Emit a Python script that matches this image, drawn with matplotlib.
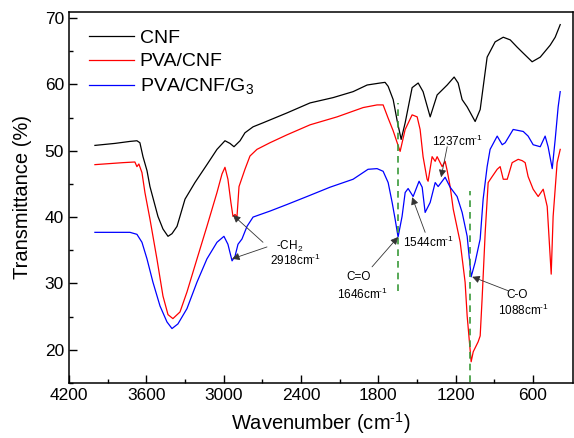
import numpy as np
import matplotlib
matplotlib.use('Agg')
import matplotlib.pyplot as plt

plt.rcParams['font.family'] = ['Liberation Sans', 'DejaVu Sans']
plt.rcParams['mathtext.fontset'] = 'custom'
plt.rcParams['mathtext.rm'] = 'Liberation Sans'
plt.rcParams['mathtext.it'] = 'Liberation Sans:italic'

# CNF
wn_cnf = [3998, 3843, 3726, 3672, 3649, 3625, 3594, 3571, 3509, 3470, 3431, 3400, 3361,
          3299, 3222, 3129, 3051, 2989, 2950, 2919, 2872, 2834, 2771, 2694, 2507, 2329,
          2150, 1995, 1886, 1785, 1747, 1723, 1684, 1653, 1622, 1591, 1537, 1490, 1452,
          1397, 1343, 1265, 1211, 1180, 1149, 1110, 1048, 1009, 955, 893, 830, 776, 722,
          675, 606, 543, 466, 427, 388]
t_cnf = [50.8, 51.1, 51.4, 51.5, 51.2, 49.1, 47.0, 44.6, 40.1, 38.2, 37.1, 37.5, 38.6,
         42.7, 45.2, 47.9, 50.2, 51.5, 51.1, 50.6, 51.5, 52.7, 53.6, 54.2, 55.7, 57.2,
         58.0, 58.9, 59.9, 60.2, 60.3, 59.7, 57.7, 54.5, 51.7, 54.2, 59.5, 60.2, 58.9,
         55.1, 58.4, 59.9, 61.1, 60.2, 57.7, 56.6, 54.4, 56.2, 64.1, 66.4, 67.1, 66.7, 65.6,
         64.7, 63.4, 64.1, 65.9, 67.1, 69.0]

# PVA/CNF
wn_pva = [3998, 3781, 3688, 3672, 3657, 3633, 3610, 3571, 3517, 3470, 3431, 3393, 3338,
          3284, 3206, 3129, 3051, 3012, 2989, 2966, 2943, 2927, 2911, 2896, 2880, 2834,
          2795, 2741, 2640, 2507, 2329, 2119, 1917, 1809, 1762, 1723, 1684, 1653, 1630,
          1591, 1537, 1498, 1475, 1452, 1421, 1413, 1382, 1358, 1343, 1304, 1281, 1265,
          1242, 1218, 1164, 1126, 1110, 1079, 1063, 1025, 1009, 994, 970, 947, 916, 877,
          854, 830, 799, 761, 714, 683, 660, 637, 598, 559, 520, 489, 458, 443, 412, 388]
t_pva = [47.9, 48.2, 48.3, 47.6, 48.0, 46.7, 43.7, 39.7, 33.7, 28.1, 25.3, 24.7, 25.7,
         28.7, 33.7, 38.6, 43.7, 46.5, 47.5, 45.7, 42.2, 40.1, 40.4, 40.0, 44.6, 47.2,
         49.2, 50.2, 51.2, 52.4, 53.9, 55.1, 56.5, 56.9, 56.9, 54.9, 53.0, 51.2, 49.9,
         53.2, 55.4, 55.1, 53.2, 49.1, 45.7, 45.4, 49.1, 48.4, 49.1, 47.6, 48.4, 47.0,
         44.6, 41.2, 36.2, 30.2, 25.1, 18.2, 19.7, 21.2, 22.1, 27.7, 37.7, 45.2, 46.1, 47.2,
         47.6, 45.7, 45.7, 48.2, 48.7, 48.5, 48.2, 46.1, 44.2, 43.1, 44.2, 41.6, 31.4, 40.1, 48.2, 50.2]

# PVA/CNF/G3
wn_g3 = [3998, 3726, 3672, 3633, 3594, 3548, 3493, 3439, 3400, 3354, 3284, 3206, 3129,
         3051, 2997, 2966, 2934, 2911, 2888, 2857, 2818, 2771, 2640, 2507, 2352, 2174,
         1995, 1879, 1809, 1762, 1723, 1692, 1669, 1646, 1615, 1591, 1568, 1529, 1483,
         1459, 1436, 1397, 1358, 1335, 1304, 1281, 1242, 1188, 1149, 1110, 1079, 1048,
         1009, 986, 955, 932, 877, 838, 815, 753, 675, 637, 598, 543, 505, 482, 450, 427, 404, 388]
t_g3 = [37.7, 37.7, 37.4, 36.2, 33.7, 30.2, 26.6, 24.2, 23.2, 23.9, 26.2, 30.2, 33.7,
        36.2, 37.1, 35.9, 33.4, 34.1, 35.9, 36.7, 38.6, 40.0, 40.9, 41.9, 43.1, 44.5,
        45.7, 47.2, 47.3, 46.9, 45.2, 42.2, 39.7, 37.0, 40.1, 43.7, 44.3, 43.1, 45.4,
        44.5, 40.7, 42.2, 45.2, 44.6, 45.4, 46.0, 44.5, 43.1, 40.7, 37.1, 31.0, 33.2,
        36.7, 42.7, 47.6, 50.2, 52.2, 50.9, 51.2, 53.2, 52.9, 52.2, 50.9, 50.6, 52.2, 50.6, 47.3, 51.7, 56.6, 58.9]

fig = plt.figure(figsize=(5.74, 4.38), dpi=100)
ax = fig.add_axes([0.120, 0.1256, 0.878, 0.847])

ax.plot(wn_cnf, t_cnf, color='k', lw=0.9, label='CNF')
ax.plot(wn_pva, t_pva, color='#ff0000', lw=0.9, label='PVA/CNF')
ax.plot(wn_g3, t_g3, color='#0000ff', lw=0.9, label='PVA/CNF/G$\\mathregular{_3}$')

# marker lines
ax.vlines(1646, 28.9, 57.2, colors='#3a9a3a', linestyles=(0, (4, 3)), lw=1.2)
ax.vlines(1088, 15.2, 43.9, colors='#3a9a3a', linestyles=(0, (4, 3)), lw=1.2)

cm = 'cm$^{\\text{-}1}$'
ap = dict(arrowstyle='-|>', color='0.2', lw=0.6, mutation_scale=11, shrinkA=0, shrinkB=0)
fs = 8.5
ax.annotate('', xy=(2927, 40.3), xytext=(2694, 36.2), arrowprops=ap)
ax.annotate('', xy=(2934, 33.7), xytext=(2663, 35.5), arrowprops=ap)
ax.text(2484, 35.6, '-CH$\\mathregular{_2}$', fontsize=fs, ha='center', va='center')
ax.text(2445, 33.4, '2918' + cm, fontsize=fs, ha='center', va='center')

ax.annotate('', xy=(1646, 37.0), xytext=(1848, 32.5), arrowprops=ap)
ax.text(1956, 31.0, 'C=O', fontsize=fs, ha='center', va='center')
ax.text(1925, 28.3, '1646' + cm, fontsize=fs, ha='center', va='center')

ax.annotate('', xy=(1537, 43.0), xytext=(1436, 37.7), arrowprops=ap)
ax.text(1413, 36.2, '1544' + cm, fontsize=fs, ha='center', va='center')

ax.annotate('', xy=(1312, 46.0), xytext=(1265, 50.6), arrowprops=ap)
ax.text(1188, 51.4, '1237' + cm, fontsize=fs, ha='center', va='center')

ax.annotate('', xy=(1071, 31.0), xytext=(792, 28.9), arrowprops=ap)
ax.text(722, 28.3, 'C-O', fontsize=fs, ha='center', va='center')
ax.text(675, 26.0, '1088' + cm, fontsize=fs, ha='center', va='center')

ax.set_xlim(4200, 290)
ax.set_ylim(15, 70.9)
ax.set_xticks([4200, 3600, 3000, 2400, 1800, 1200, 600])
ax.set_xticks(np.arange(3900, 300, -600), minor=True)
ax.set_yticks([20, 30, 40, 50, 60, 70])
ax.set_yticks([15, 25, 35, 45, 55, 65], minor=True)
ax.tick_params(which='both', direction='in', top=False, right=False, width=1.0, labelsize=12.5)
ax.tick_params(which='major', length=6)
ax.tick_params(which='minor', length=3)
for s in ax.spines.values():
    s.set_linewidth(1.1)

ax.set_xlabel('Wavenumber (' + cm + ')', fontsize=14.5, labelpad=5)
ax.set_ylabel('Transmittance (%)', fontsize=14.5, labelpad=9)

ax.legend(loc='upper left', bbox_to_anchor=(0.04, 0.953), frameon=False, fontsize=14,
          handlelength=2.3, handletextpad=0.3, labelspacing=0.3, borderpad=0, borderaxespad=0)

fig.savefig('out.png', dpi=100)
